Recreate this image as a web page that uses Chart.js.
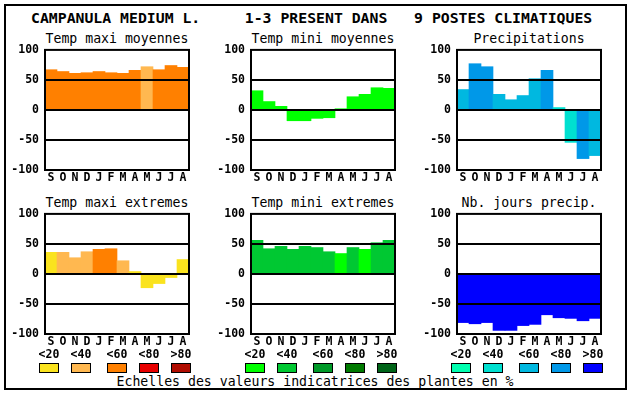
<!DOCTYPE html>
<html>
<head>
<meta charset="utf-8">
<script src="https://cdn.jsdelivr.net/npm/chart.js@4.4.1/dist/chart.umd.min.js"></script>
<style>
  body { margin: 0; background: #fff; }
  #page { position: relative; width: 630px; height: 394px; overflow: hidden; font-family: "DejaVu Sans Mono", monospace; }
  #frame { position: absolute; left: 4px; top: 4px; width: 619px; height: 382px; border: 2px solid #000; }
  .txt { position: absolute; white-space: pre; color: #000; line-height: 1; }
  .ttl { font-size: 13.2px; text-align: center; width: 160px; }
  .lbl { font-size: 11.5px; font-weight: bold; text-align: center; width: 30px; }
  .box { position: absolute; width: 18px; height: 8px; border: 1px solid #000; }
  canvas { position: absolute; }
</style>
</head>
<body>
<div id="page">
  <div id="frame"></div>
  <div class="txt" style="left:31px;top:11px;font-size:14.8px;font-weight:bold;">CAMPANULA MEDIUM L.     1-3 PRESENT DANS   9 POSTES CLIMATIQUES</div>
  <div class="txt" style="left:0;width:630px;text-align:center;top:375px;font-size:13.2px;">Echelles des valeurs indicatrices des plantes en %</div>
</div>
<script>
// ===== DONNEES =====
const mois = ['S','O','N','D','J','F','M','A','M','J','J','A'];
const yTicks = [-100, -50, 0, 50, 100];
const classes = ['<20', '<40', '<60', '<80', '>80'];

const palJaune = ['#fae31e', '#ffb850', '#ff8000', '#e80000', '#b00c00'];
const palVert  = ['#00ff00', '#00c832', '#009a28', '#007a00', '#006418'];
const palBleu  = ['#00ffb0', '#00e0d0', '#00b8e0', '#0098e8', '#0000ff'];

const tempMaxiMoy    = [67, 64, 61, 62, 64, 62, 61, 66, 72, 67, 74, 71];
const tempMaxiMoyCls = [2, 2, 2, 2, 2, 2, 2, 2, 1, 2, 2, 2];

const tempMiniMoy    = [32, 14, 6, -18, -18, -14, -13, 2, 22, 26, 37, 36];
const tempMiniMoyCls = [0, 0, 0, 0, 0, 0, 0, 0, 0, 0, 0, 0];

const precip    = [34, 77, 72, 26, 17, 24, 52, 66, 4, -54, -81, -76];
const precipCls = [2, 3, 3, 2, 2, 2, 2, 3, 1, 1, 3, 2];

const tempMaxiExt    = [36, 36, 27, 37, 41, 42, 22, 4, -23, -16, -6, 24];
const tempMaxiExtCls = [0, 1, 1, 1, 2, 2, 1, 0, 0, 0, 0, 0];

const tempMiniExt    = [56, 42, 46, 41, 46, 44, 37, 34, 44, 41, 52, 56];
const tempMiniExtCls = [1, 1, 1, 1, 1, 1, 1, 0, 1, 0, 1, 1];

const joursPrecip    = [-81, -83, -81, -94, -94, -86, -84, -68, -73, -74, -78, -74];
const joursPrecipCls = [4, 4, 4, 4, 4, 4, 4, 4, 4, 4, 4, 4];

const panneaux = [
  { titre: 'Temp maxi moyennes', val: tempMaxiMoy, cls: tempMaxiMoyCls, pal: palJaune, x: 45,  y: 50 },
  { titre: 'Temp mini moyennes', val: tempMiniMoy, cls: tempMiniMoyCls, pal: palVert,  x: 251, y: 50 },
  { titre: 'Precipitations',     val: precip,      cls: precipCls,      pal: palBleu,  x: 457, y: 50 },
  { titre: 'Temp maxi extremes', val: tempMaxiExt, cls: tempMaxiExtCls, pal: palJaune, x: 45,  y: 214 },
  { titre: 'Temp mini extremes', val: tempMiniExt, cls: tempMiniExtCls, pal: palVert,  x: 251, y: 214 },
  { titre: 'Nb. jours precip.',  val: joursPrecip, cls: joursPrecipCls, pal: palBleu,  x: 457, y: 214 }
];

const page = document.getElementById('page');
const PW = 144, PH = 120, GAUCHE = 45, DROITE = 4, BAS = 16;

// cadre du graphe
const cadre = {
  id: 'cadre',
  afterDraw(chart) {
    const a = chart.chartArea, c = chart.ctx;
    c.save();
    c.strokeStyle = '#000';
    c.lineWidth = 2;
    c.strokeRect(a.left, a.top, a.right - a.left, a.bottom - a.top);
    c.restore();
  }
};

panneaux.forEach(p => {
  const t = document.createElement('div');
  t.className = 'txt ttl';
  t.style.left = (p.x + PW / 2 - 80) + 'px';
  t.style.top = (p.y - 18) + 'px';
  t.textContent = p.titre;
  page.appendChild(t);

  const cv = document.createElement('canvas');
  cv.width = GAUCHE + PW + DROITE;
  cv.height = PH + BAS + 10;
  page.appendChild(cv);

  const ch = new Chart(cv, {
    type: 'bar',
    data: {
      labels: mois,
      datasets: [{
        data: p.val,
        backgroundColor: p.cls.map(k => p.pal[k]),
        borderWidth: 0,
        categoryPercentage: 1,
        barPercentage: 1
      }]
    },
    options: {
      responsive: false,
      maintainAspectRatio: false,
      animation: false,
      devicePixelRatio: 1,
      layout: { padding: { top: 0, right: DROITE, left: 0, bottom: 0 } },
      plugins: { legend: { display: false }, tooltip: { enabled: false } },
      scales: {
        x: {
          grid: { display: false, drawTicks: false },
          border: { display: false },
          ticks: {
            color: '#000', padding: 1, maxRotation: 0, autoSkip: false,
            font: { family: 'DejaVu Sans Mono', size: 11.5, weight: 'bold' }
          },
          afterFit(s) { s.height = BAS; }
        },
        y: {
          min: -100, max: 100,
          afterBuildTicks(s) { s.ticks = yTicks.map(v => ({ value: v })); },
          grid: {
            z: 1, lineWidth: 2, drawTicks: false,
            color: c => (Math.abs(c.tick.value) === 100 ? 'rgba(0,0,0,0)' : '#000')
          },
          border: { display: false },
          ticks: {
            color: '#000', padding: 6,
            font: { family: 'DejaVu Sans Mono', size: 11.5, weight: 'bold' }
          },
          afterFit(s) { s.width = GAUCHE; }
        }
      }
    },
    plugins: [cadre]
  });

  // ajuster la taille du canvas pour que la zone de tracé fasse PW x PH
  let a = ch.chartArea;
  const h = cv.height + Math.round(PH - (a.bottom - a.top));
  const w = cv.width + Math.round(PW - (a.right - a.left));
  ch.resize(w, h);
  a = ch.chartArea;
  cv.style.left = (p.x - Math.round(a.left)) + 'px';
  cv.style.top = (p.y - Math.round(a.top)) + 'px';
});

// ===== LEGENDE =====
const legendes = [
  { pal: palJaune, x: [39, 71, 107, 139, 171] },
  { pal: palVert,  x: [245, 277, 313, 345, 377] },
  { pal: palBleu,  x: [451, 483, 519, 551, 583] }
];
legendes.forEach(g => {
  g.pal.forEach((col, i) => {
    const l = document.createElement('div');
    l.className = 'txt lbl';
    l.style.left = (g.x[i] + 10 - 15) + 'px';
    l.style.top = '349px';
    l.textContent = classes[i];
    page.appendChild(l);

    const b = document.createElement('div');
    b.className = 'box';
    b.style.left = g.x[i] + 'px';
    b.style.top = '363px';
    b.style.background = col;
    page.appendChild(b);
  });
});
</script>
</body>
</html>
